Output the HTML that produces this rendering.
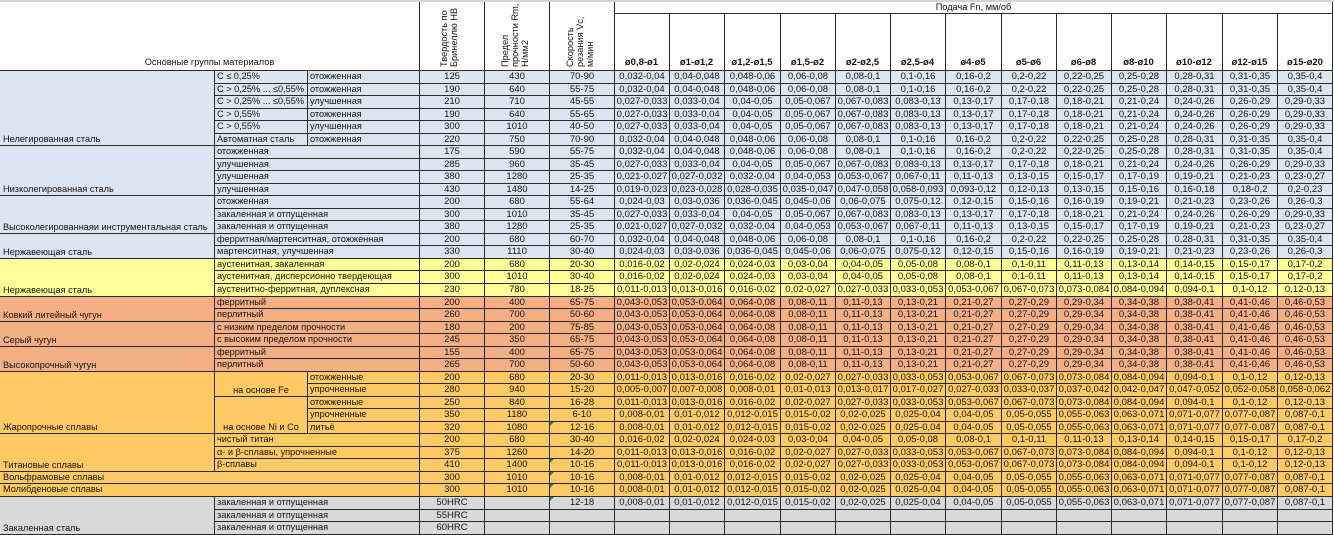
<!DOCTYPE html>
<html><head><meta charset="utf-8">
<style>
:root{--t:65px 65px 65px 55px 55px 56px 55px 55px 55px 56px 55px 55px 55px 56px 55px 56px}
html,body{margin:0;padding:0}
body{width:1334px;height:535px;position:relative;overflow:hidden;background:#fff;font-family:"Liberation Sans",Arial,sans-serif;font-size:9.5px;color:#141414}
.ln{position:absolute;background:#2a2a2a}
.r{position:absolute;display:grid;box-sizing:border-box;border-top:1px solid #2a2a2a}
.r>span{box-sizing:border-box;border-left:1px solid #2a2a2a;text-align:center;white-space:nowrap;overflow:hidden;line-height:11.5px}
.r>span:last-child{border-right:1px solid #2a2a2a}
.r>span.l{text-align:left;padding-left:2px;font-size:9.2px}
.A{left:214px;width:1119px;grid-template-columns:93px 112px var(--t)}
.B{left:214px;width:1119px;grid-template-columns:205px var(--t)}
.C{left:307px;width:1026px;grid-template-columns:112px var(--t)}
.D{left:0;width:1333px;grid-template-columns:419px var(--t)}
.D>span:first-child{border-left:0}
.D>span.l{padding-left:3px}
.g{position:absolute;left:0;width:214px;box-sizing:border-box;border-top:1px solid #2a2a2a;display:flex;align-items:flex-end;padding-left:3px;line-height:11.5px;white-space:nowrap;font-size:9.2px}
.s{position:absolute;left:214px;width:93px;box-sizing:border-box;border-top:1px solid #2a2a2a;border-left:1px solid #2a2a2a;display:flex;align-items:flex-end;justify-content:center;line-height:11.5px;white-space:nowrap;font-size:9.2px}
.bl{background:#dce6f1}.ye{background:#ffff99}.sa{background:#f5af84}.go{background:#ffca64}.gr{background:#d9d9d9}
.rot{position:absolute;top:67px;width:66px;line-height:10px;transform-origin:0 0;transform:rotate(-90deg);white-space:nowrap;font-size:9.2px}
.fh{position:absolute;top:57px;line-height:11px;font-weight:bold;text-align:center;white-space:nowrap}
.tri{position:absolute;left:550px;width:0;height:0;border-top:4px solid #1f8a3a;border-right:4px solid transparent}
</style></head><body>

<!-- header -->
<div style="position:absolute;left:0;top:0;width:1334px;height:2px;background:#d4d4d4"></div>
<div class="ln" style="left:419px;top:2px;width:1px;height:68px"></div>
<div class="ln" style="left:484px;top:2px;width:1px;height:68px"></div>
<div class="ln" style="left:549px;top:2px;width:1px;height:68px"></div>
<div class="ln" style="left:614px;top:2px;width:1px;height:68px"></div>
<div class="ln" style="left:1332px;top:2px;width:1px;height:68px"></div>
<div class="ln" style="left:614px;top:13px;width:719px;height:1px"></div>
<div class="ln" style="left:669px;top:13px;width:1px;height:57px"></div>
<div class="ln" style="left:724px;top:13px;width:1px;height:57px"></div>
<div class="ln" style="left:780px;top:13px;width:1px;height:57px"></div>
<div class="ln" style="left:835px;top:13px;width:1px;height:57px"></div>
<div class="ln" style="left:890px;top:13px;width:1px;height:57px"></div>
<div class="ln" style="left:945px;top:13px;width:1px;height:57px"></div>
<div class="ln" style="left:1001px;top:13px;width:1px;height:57px"></div>
<div class="ln" style="left:1056px;top:13px;width:1px;height:57px"></div>
<div class="ln" style="left:1111px;top:13px;width:1px;height:57px"></div>
<div class="ln" style="left:1166px;top:13px;width:1px;height:57px"></div>
<div class="ln" style="left:1222px;top:13px;width:1px;height:57px"></div>
<div class="ln" style="left:1277px;top:13px;width:1px;height:57px"></div>

<div style="position:absolute;left:614px;top:2px;width:719px;line-height:11px;text-align:center;font-size:9.2px">Подача Fn, мм/об</div>
<div style="position:absolute;left:0;top:57px;width:419px;line-height:11px;text-align:center;font-size:9.2px">Основные группы материалов</div>

<div class="rot" style="left:439px">Твердость по<br>Бринеллю HB</div>
<div class="rot" style="left:500px">Предел<br>прочности Rm,<br>Н/мм2</div>
<div class="rot" style="left:565px">Скорость<br>резания Vc,<br>м/мин</div>

<div class="fh" style="left:614px;width:55px">ø0,8-ø1</div>
<div class="fh" style="left:669px;width:55px">ø1-ø1,2</div>
<div class="fh" style="left:724px;width:56px">ø1,2-ø1,5</div>
<div class="fh" style="left:780px;width:55px">ø1,5-ø2</div>
<div class="fh" style="left:835px;width:55px">ø2-ø2,5</div>
<div class="fh" style="left:890px;width:55px">ø2,5-ø4</div>
<div class="fh" style="left:945px;width:56px">ø4-ø5</div>
<div class="fh" style="left:1001px;width:55px">ø5-ø6</div>
<div class="fh" style="left:1056px;width:55px">ø6-ø8</div>
<div class="fh" style="left:1111px;width:55px">ø8-ø10</div>
<div class="fh" style="left:1166px;width:56px">ø10-ø12</div>
<div class="fh" style="left:1222px;width:55px">ø12-ø15</div>
<div class="fh" style="left:1277px;width:56px">ø15-ø20</div>

<!-- group blocks -->
<div class="g bl" style="top:70px;height:75px">Нелегированная сталь</div>
<div class="g bl" style="top:145px;height:50px">Низколегированная сталь</div>
<div class="g bl" style="top:195px;height:38px">Высоколегированнаяи инструментальная сталь</div>
<div class="g bl" style="top:233px;height:25px">Нержавеющая сталь</div>
<div class="g ye" style="top:258px;height:38px">Нержавеющая сталь</div>
<div class="g sa" style="top:296px;height:25px">Ковкий литейный чугун</div>
<div class="g sa" style="top:321px;height:25px">Серый чугун</div>
<div class="g sa" style="top:346px;height:25px">Высокопрочный чугун</div>
<div class="g go" style="top:371px;height:62px">Жаропрочные сплавы</div>
<div class="g go" style="top:433px;height:38px">Титановые сплавы</div>
<div class="g gr" style="top:496px;height:38px">Закаленная сталь</div>
<div class="s go" style="top:371px;height:25px">на основе Fe</div>
<div class="s go" style="top:396px;height:37px">на основе Ni и Co</div>

<!-- rows -->
<div class="r A bl" style="top:70px;height:13px"><span class="l">C ≤ 0,25%</span><span class="l">отожженная</span><span>125</span><span>430</span><span>70-90</span><span>0,032-0,04</span><span>0,04-0,048</span><span>0,048-0,06</span><span>0,06-0,08</span><span>0,08-0,1</span><span>0,1-0,16</span><span>0,16-0,2</span><span>0,2-0,22</span><span>0,22-0,25</span><span>0,25-0,28</span><span>0,28-0,31</span><span>0,31-0,35</span><span>0,35-0,4</span></div>
<div class="r A bl" style="top:83px;height:12px"><span class="l">C &gt; 0,25% ... ≤0,55%</span><span class="l">отожженная</span><span>190</span><span>640</span><span>55-75</span><span>0,032-0,04</span><span>0,04-0,048</span><span>0,048-0,06</span><span>0,06-0,08</span><span>0,08-0,1</span><span>0,1-0,16</span><span>0,16-0,2</span><span>0,2-0,22</span><span>0,22-0,25</span><span>0,25-0,28</span><span>0,28-0,31</span><span>0,31-0,35</span><span>0,35-0,4</span></div>
<div class="r A bl" style="top:95px;height:13px"><span class="l">C &gt; 0,25% ... ≤0,55%</span><span class="l">улучшенная</span><span>210</span><span>710</span><span>45-55</span><span>0,027-0,033</span><span>0,033-0,04</span><span>0,04-0,05</span><span>0,05-0,067</span><span>0,067-0,083</span><span>0,083-0,13</span><span>0,13-0,17</span><span>0,17-0,18</span><span>0,18-0,21</span><span>0,21-0,24</span><span>0,24-0,26</span><span>0,26-0,29</span><span>0,29-0,33</span></div>
<div class="r A bl" style="top:108px;height:12px"><span class="l">C &gt; 0,55%</span><span class="l">отожженная</span><span>190</span><span>640</span><span>55-65</span><span>0,027-0,033</span><span>0,033-0,04</span><span>0,04-0,05</span><span>0,05-0,067</span><span>0,067-0,083</span><span>0,083-0,13</span><span>0,13-0,17</span><span>0,17-0,18</span><span>0,18-0,21</span><span>0,21-0,24</span><span>0,24-0,26</span><span>0,26-0,29</span><span>0,29-0,33</span></div>
<div class="r A bl" style="top:120px;height:13px"><span class="l">C &gt; 0,55%</span><span class="l">улучшенная</span><span>300</span><span>1010</span><span>40-50</span><span>0,027-0,033</span><span>0,033-0,04</span><span>0,04-0,05</span><span>0,05-0,067</span><span>0,067-0,083</span><span>0,083-0,13</span><span>0,13-0,17</span><span>0,17-0,18</span><span>0,18-0,21</span><span>0,21-0,24</span><span>0,24-0,26</span><span>0,26-0,29</span><span>0,29-0,33</span></div>
<div class="r A bl" style="top:133px;height:12px"><span class="l">Автоматная сталь</span><span class="l">отожженная</span><span>220</span><span>750</span><span>70-90</span><span>0,032-0,04</span><span>0,04-0,048</span><span>0,048-0,06</span><span>0,06-0,08</span><span>0,08-0,1</span><span>0,1-0,16</span><span>0,16-0,2</span><span>0,2-0,22</span><span>0,22-0,25</span><span>0,25-0,28</span><span>0,28-0,31</span><span>0,31-0,35</span><span>0,35-0,4</span></div>
<div class="r B bl" style="top:145px;height:13px"><span class="l">отожженная</span><span>175</span><span>590</span><span>55-75</span><span>0,032-0,04</span><span>0,04-0,048</span><span>0,048-0,06</span><span>0,06-0,08</span><span>0,08-0,1</span><span>0,1-0,16</span><span>0,16-0,2</span><span>0,2-0,22</span><span>0,22-0,25</span><span>0,25-0,28</span><span>0,28-0,31</span><span>0,31-0,35</span><span>0,35-0,4</span></div>
<div class="r B bl" style="top:158px;height:12px"><span class="l">улучшенная</span><span>285</span><span>960</span><span>35-45</span><span>0,027-0,033</span><span>0,033-0,04</span><span>0,04-0,05</span><span>0,05-0,067</span><span>0,067-0,083</span><span>0,083-0,13</span><span>0,13-0,17</span><span>0,17-0,18</span><span>0,18-0,21</span><span>0,21-0,24</span><span>0,24-0,26</span><span>0,26-0,29</span><span>0,29-0,33</span></div>
<div class="r B bl" style="top:170px;height:13px"><span class="l">улучшенная</span><span>380</span><span>1280</span><span>25-35</span><span>0,021-0,027</span><span>0,027-0,032</span><span>0,032-0,04</span><span>0,04-0,053</span><span>0,053-0,067</span><span>0,067-0,11</span><span>0,11-0,13</span><span>0,13-0,15</span><span>0,15-0,17</span><span>0,17-0,19</span><span>0,19-0,21</span><span>0,21-0,23</span><span>0,23-0,27</span></div>
<div class="r B bl" style="top:183px;height:12px"><span class="l">улучшенная</span><span>430</span><span>1480</span><span>14-25</span><span>0,019-0,023</span><span>0,023-0,028</span><span>0,028-0,035</span><span>0,035-0,047</span><span>0,047-0,058</span><span>0,058-0,093</span><span>0,093-0,12</span><span>0,12-0,13</span><span>0,13-0,15</span><span>0,15-0,16</span><span>0,16-0,18</span><span>0,18-0,2</span><span>0,2-0,23</span></div>
<div class="r B bl" style="top:195px;height:13px"><span class="l">отожженная</span><span>200</span><span>680</span><span>55-64</span><span>0,024-0,03</span><span>0,03-0,036</span><span>0,036-0,045</span><span>0,045-0,06</span><span>0,06-0,075</span><span>0,075-0,12</span><span>0,12-0,15</span><span>0,15-0,16</span><span>0,16-0,19</span><span>0,19-0,21</span><span>0,21-0,23</span><span>0,23-0,26</span><span>0,26-0,3</span></div>
<div class="r B bl" style="top:208px;height:12px"><span class="l">закаленная и отпущенная</span><span>300</span><span>1010</span><span>35-45</span><span>0,027-0,033</span><span>0,033-0,04</span><span>0,04-0,05</span><span>0,05-0,067</span><span>0,067-0,083</span><span>0,083-0,13</span><span>0,13-0,17</span><span>0,17-0,18</span><span>0,18-0,21</span><span>0,21-0,24</span><span>0,24-0,26</span><span>0,26-0,29</span><span>0,29-0,33</span></div>
<div class="r B bl" style="top:220px;height:13px"><span class="l">закаленная и отпущенная</span><span>380</span><span>1280</span><span>25-35</span><span>0,021-0,027</span><span>0,027-0,032</span><span>0,032-0,04</span><span>0,04-0,053</span><span>0,053-0,067</span><span>0,067-0,11</span><span>0,11-0,13</span><span>0,13-0,15</span><span>0,15-0,17</span><span>0,17-0,19</span><span>0,19-0,21</span><span>0,21-0,23</span><span>0,23-0,27</span></div>
<div class="r B bl" style="top:233px;height:12px"><span class="l">ферритная/мартенситная, отожженная</span><span>200</span><span>680</span><span>60-70</span><span>0,032-0,04</span><span>0,04-0,048</span><span>0,048-0,06</span><span>0,06-0,08</span><span>0,08-0,1</span><span>0,1-0,16</span><span>0,16-0,2</span><span>0,2-0,22</span><span>0,22-0,25</span><span>0,25-0,28</span><span>0,28-0,31</span><span>0,31-0,35</span><span>0,35-0,4</span></div>
<div class="r B bl" style="top:245px;height:13px"><span class="l">мартенситная, улучшенная</span><span>330</span><span>1110</span><span>30-40</span><span>0,024-0,03</span><span>0,03-0,036</span><span>0,036-0,045</span><span>0,045-0,06</span><span>0,06-0,075</span><span>0,075-0,12</span><span>0,12-0,15</span><span>0,15-0,16</span><span>0,16-0,19</span><span>0,19-0,21</span><span>0,21-0,23</span><span>0,23-0,26</span><span>0,26-0,3</span></div>
<div class="r B ye" style="top:258px;height:12px"><span class="l">аустенитная, закаленная</span><span>200</span><span>680</span><span>20-30</span><span>0,016-0,02</span><span>0,02-0,024</span><span>0,024-0,03</span><span>0,03-0,04</span><span>0,04-0,05</span><span>0,05-0,08</span><span>0,08-0,1</span><span>0,1-0,11</span><span>0,11-0,13</span><span>0,13-0,14</span><span>0,14-0,15</span><span>0,15-0,17</span><span>0,17-0,2</span></div>
<div class="r B ye" style="top:270px;height:13px"><span class="l">аустенитная, дисперсионно твердеющая</span><span>300</span><span>1010</span><span>30-40</span><span>0,016-0,02</span><span>0,02-0,024</span><span>0,024-0,03</span><span>0,03-0,04</span><span>0,04-0,05</span><span>0,05-0,08</span><span>0,08-0,1</span><span>0,1-0,11</span><span>0,11-0,13</span><span>0,13-0,14</span><span>0,14-0,15</span><span>0,15-0,17</span><span>0,17-0,2</span></div>
<div class="r B ye" style="top:283px;height:13px"><span class="l">аустенитно-ферритная, дуплексная</span><span>230</span><span>780</span><span>18-25</span><span>0,011-0,013</span><span>0,013-0,016</span><span>0,016-0,02</span><span>0,02-0,027</span><span>0,027-0,033</span><span>0,033-0,053</span><span>0,053-0,067</span><span>0,067-0,073</span><span>0,073-0,084</span><span>0,084-0,094</span><span>0,094-0,1</span><span>0,1-0,12</span><span>0,12-0,13</span></div>
<div class="r B sa" style="top:296px;height:12px"><span class="l">ферритный</span><span>200</span><span>400</span><span>65-75</span><span>0,043-0,053</span><span>0,053-0,064</span><span>0,064-0,08</span><span>0,08-0,11</span><span>0,11-0,13</span><span>0,13-0,21</span><span>0,21-0,27</span><span>0,27-0,29</span><span>0,29-0,34</span><span>0,34-0,38</span><span>0,38-0,41</span><span>0,41-0,46</span><span>0,46-0,53</span></div>
<div class="r B sa" style="top:308px;height:13px"><span class="l">перлитный</span><span>260</span><span>700</span><span>50-60</span><span>0,043-0,053</span><span>0,053-0,064</span><span>0,064-0,08</span><span>0,08-0,11</span><span>0,11-0,13</span><span>0,13-0,21</span><span>0,21-0,27</span><span>0,27-0,29</span><span>0,29-0,34</span><span>0,34-0,38</span><span>0,38-0,41</span><span>0,41-0,46</span><span>0,46-0,53</span></div>
<div class="r B sa" style="top:321px;height:12px"><span class="l">с низким пределом прочности</span><span>180</span><span>200</span><span>75-85</span><span>0,043-0,053</span><span>0,053-0,064</span><span>0,064-0,08</span><span>0,08-0,11</span><span>0,11-0,13</span><span>0,13-0,21</span><span>0,21-0,27</span><span>0,27-0,29</span><span>0,29-0,34</span><span>0,34-0,38</span><span>0,38-0,41</span><span>0,41-0,46</span><span>0,46-0,53</span></div>
<div class="r B sa" style="top:333px;height:13px"><span class="l">с высоким пределом прочности</span><span>245</span><span>350</span><span>65-75</span><span>0,043-0,053</span><span>0,053-0,064</span><span>0,064-0,08</span><span>0,08-0,11</span><span>0,11-0,13</span><span>0,13-0,21</span><span>0,21-0,27</span><span>0,27-0,29</span><span>0,29-0,34</span><span>0,34-0,38</span><span>0,38-0,41</span><span>0,41-0,46</span><span>0,46-0,53</span></div>
<div class="r B sa" style="top:346px;height:12px"><span class="l">ферритный</span><span>155</span><span>400</span><span>65-75</span><span>0,043-0,053</span><span>0,053-0,064</span><span>0,064-0,08</span><span>0,08-0,11</span><span>0,11-0,13</span><span>0,13-0,21</span><span>0,21-0,27</span><span>0,27-0,29</span><span>0,29-0,34</span><span>0,34-0,38</span><span>0,38-0,41</span><span>0,41-0,46</span><span>0,46-0,53</span></div>
<div class="r B sa" style="top:358px;height:13px"><span class="l">перлитный</span><span>265</span><span>700</span><span>50-60</span><span>0,043-0,053</span><span>0,053-0,064</span><span>0,064-0,08</span><span>0,08-0,11</span><span>0,11-0,13</span><span>0,13-0,21</span><span>0,21-0,27</span><span>0,27-0,29</span><span>0,29-0,34</span><span>0,34-0,38</span><span>0,38-0,41</span><span>0,41-0,46</span><span>0,46-0,53</span></div>
<div class="r C go" style="top:371px;height:12px"><span class="l">отожженные</span><span>200</span><span>680</span><span>20-30</span><span>0,011-0,013</span><span>0,013-0,016</span><span>0,016-0,02</span><span>0,02-0,027</span><span>0,027-0,033</span><span>0,033-0,053</span><span>0,053-0,067</span><span>0,067-0,073</span><span>0,073-0,084</span><span>0,084-0,094</span><span>0,094-0,1</span><span>0,1-0,12</span><span>0,12-0,13</span></div>
<div class="r C go" style="top:383px;height:13px"><span class="l">упрочненные</span><span>280</span><span>940</span><span>15-20</span><span>0,005-0,007</span><span>0,007-0,008</span><span>0,008-0,01</span><span>0,01-0,013</span><span>0,013-0,017</span><span>0,017-0,027</span><span>0,027-0,033</span><span>0,033-0,037</span><span>0,037-0,042</span><span>0,042-0,047</span><span>0,047-0,052</span><span>0,052-0,058</span><span>0,058-0,062</span></div>
<div class="r C go" style="top:396px;height:12px"><span class="l">отожженные</span><span>250</span><span>840</span><span>16-28</span><span>0,011-0,013</span><span>0,013-0,016</span><span>0,016-0,02</span><span>0,02-0,027</span><span>0,027-0,033</span><span>0,033-0,053</span><span>0,053-0,067</span><span>0,067-0,073</span><span>0,073-0,084</span><span>0,084-0,094</span><span>0,094-0,1</span><span>0,1-0,12</span><span>0,12-0,13</span></div>
<div class="r C go" style="top:408px;height:13px"><span class="l">упрочненные</span><span>350</span><span>1180</span><span>6-10</span><span>0,008-0,01</span><span>0,01-0,012</span><span>0,012-0,015</span><span>0,015-0,02</span><span>0,02-0,025</span><span>0,025-0,04</span><span>0,04-0,05</span><span>0,05-0,055</span><span>0,055-0,063</span><span>0,063-0,071</span><span>0,071-0,077</span><span>0,077-0,087</span><span>0,087-0,1</span></div>
<div class="r C go" style="top:421px;height:12px"><span class="l">литьё</span><span>320</span><span>1080</span><span>12-16</span><span>0,008-0,01</span><span>0,01-0,012</span><span>0,012-0,015</span><span>0,015-0,02</span><span>0,02-0,025</span><span>0,025-0,04</span><span>0,04-0,05</span><span>0,05-0,055</span><span>0,055-0,063</span><span>0,063-0,071</span><span>0,071-0,077</span><span>0,077-0,087</span><span>0,087-0,1</span></div>
<div class="r B go" style="top:433px;height:13px"><span class="l">чистый титан</span><span>200</span><span>680</span><span>30-40</span><span>0,016-0,02</span><span>0,02-0,024</span><span>0,024-0,03</span><span>0,03-0,04</span><span>0,04-0,05</span><span>0,05-0,08</span><span>0,08-0,1</span><span>0,1-0,11</span><span>0,11-0,13</span><span>0,13-0,14</span><span>0,14-0,15</span><span>0,15-0,17</span><span>0,17-0,2</span></div>
<div class="r B go" style="top:446px;height:12px"><span class="l">α- и β-сплавы, упрочненные</span><span>375</span><span>1260</span><span>14-20</span><span>0,011-0,013</span><span>0,013-0,016</span><span>0,016-0,02</span><span>0,02-0,027</span><span>0,027-0,033</span><span>0,033-0,053</span><span>0,053-0,067</span><span>0,067-0,073</span><span>0,073-0,084</span><span>0,084-0,094</span><span>0,094-0,1</span><span>0,1-0,12</span><span>0,12-0,13</span></div>
<div class="r B go" style="top:458px;height:13px"><span class="l">β-сплавы</span><span>410</span><span>1400</span><span>10-16</span><span>0,011-0,013</span><span>0,013-0,016</span><span>0,016-0,02</span><span>0,02-0,027</span><span>0,027-0,033</span><span>0,033-0,053</span><span>0,053-0,067</span><span>0,067-0,073</span><span>0,073-0,084</span><span>0,084-0,094</span><span>0,094-0,1</span><span>0,1-0,12</span><span>0,12-0,13</span></div>
<div class="r D go" style="top:471px;height:12px"><span class="l">Вольфрамовые сплавы</span><span>300</span><span>1010</span><span>10-16</span><span>0,008-0,01</span><span>0,01-0,012</span><span>0,012-0,015</span><span>0,015-0,02</span><span>0,02-0,025</span><span>0,025-0,04</span><span>0,04-0,05</span><span>0,05-0,055</span><span>0,055-0,063</span><span>0,063-0,071</span><span>0,071-0,077</span><span>0,077-0,087</span><span>0,087-0,1</span></div>
<div class="r D go" style="top:483px;height:13px"><span class="l">Молибденовые сплавы</span><span>300</span><span>1010</span><span>10-16</span><span>0,008-0,01</span><span>0,01-0,012</span><span>0,012-0,015</span><span>0,015-0,02</span><span>0,02-0,025</span><span>0,025-0,04</span><span>0,04-0,05</span><span>0,05-0,055</span><span>0,055-0,063</span><span>0,063-0,071</span><span>0,071-0,077</span><span>0,077-0,087</span><span>0,087-0,1</span></div>
<div class="r B gr" style="top:496px;height:13px"><span class="l">закаленная и отпущенная</span><span>50HRC</span><span></span><span>12-18</span><span>0,008-0,01</span><span>0,01-0,012</span><span>0,012-0,015</span><span>0,015-0,02</span><span>0,02-0,025</span><span>0,025-0,04</span><span>0,04-0,05</span><span>0,05-0,055</span><span>0,055-0,063</span><span>0,063-0,071</span><span>0,071-0,077</span><span>0,077-0,087</span><span>0,087-0,1</span></div>
<div class="r B gr" style="top:509px;height:12px"><span class="l">закаленная и отпущенная</span><span>55HRC</span><span></span><span></span><span></span><span></span><span></span><span></span><span></span><span></span><span></span><span></span><span></span><span></span><span></span><span></span><span></span></div>
<div class="r B gr" style="top:521px;height:13px"><span class="l">закаленная и отпущенная</span><span>60HRC</span><span></span><span></span><span></span><span></span><span></span><span></span><span></span><span></span><span></span><span></span><span></span><span></span><span></span><span></span><span></span></div>
<div class="ln" style="left:0;top:534px;width:1333px;height:1px"></div>

<!-- excel indicators -->
<div class="tri" style="top:422px"></div>
<div class="tri" style="top:459px"></div>
<div class="tri" style="top:472px"></div>
<div class="tri" style="top:484px"></div>
<div class="tri" style="top:497px"></div>
</body></html>
